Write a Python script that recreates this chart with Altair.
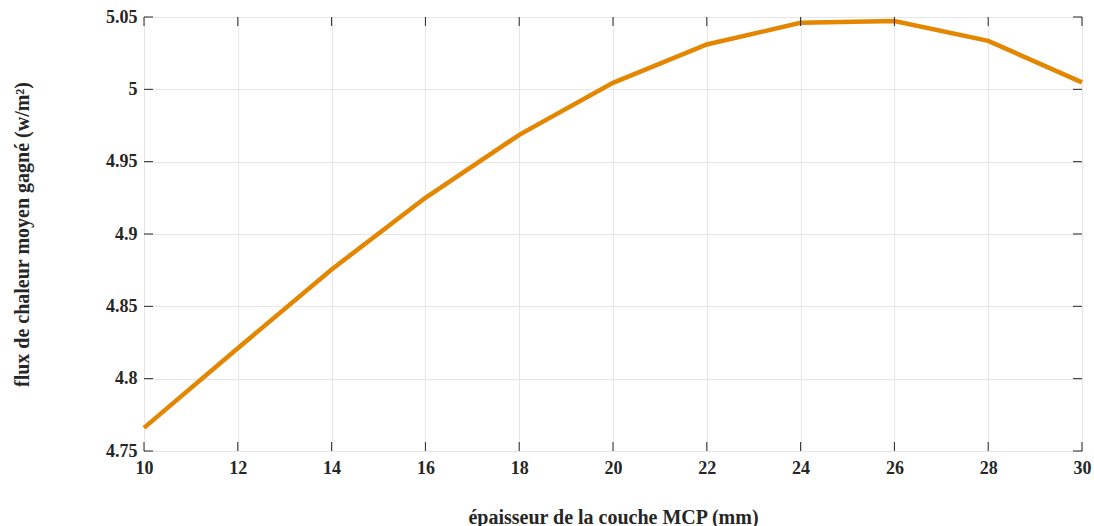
import altair as alt
import pandas as pd

# épaisseur de la couche MCP (mm) et flux moyen gagné (W/m²)
epaisseur = [10, 12, 14, 16, 18, 20, 22, 24, 26, 28, 30]
flux = [4.766, 4.821, 4.8755, 4.925, 4.9685, 5.0045, 5.031, 5.046, 5.0472, 5.0335, 5.0048]

x_ticks = [10, 12, 14, 16, 18, 20, 22, 24, 26, 28, 30]
y_ticks = [4.75, 4.8, 4.85, 4.9, 4.95, 5.0, 5.05]

W, H = 938, 434
FONT = "Liberation Serif"
INK = "#262626"
TICK_LEN = 9

df = pd.DataFrame({"e": epaisseur, "q": flux})
xs = alt.Scale(domain=[10, 30], nice=False)
ys = alt.Scale(domain=[4.75, 5.05], nice=False, zero=False)

x_axis = alt.Axis(values=x_ticks, format="d", grid=True, gridColor="#e6e6e6",
                  ticks=False, domain=False, labelPadding=8, labelFlush=False,
                  title="épaisseur de la couche MCP (mm)", titleY=66,
                  titleBaseline="middle")
y_axis = alt.Axis(values=y_ticks, format=".3~f", grid=True, gridColor="#e6e6e6",
                  ticks=False, domain=False, labelPadding=7, labelFlush=False,
                  title="flux de chaleur moyen gagné (w/m²)", titleX=-122,
                  titleBaseline="middle")

line = alt.Chart(df).mark_line(color="#E38600", strokeWidth=4.5).encode(
    x=alt.X("e:Q", scale=xs, axis=x_axis),
    y=alt.Y("q:Q", scale=ys, axis=y_axis),
)

xt = pd.DataFrame({"e": x_ticks})
yt = pd.DataFrame({"q": y_ticks})

# inward tick marks on all four sides of the box
bottom = alt.Chart(xt).mark_rule(color=INK, strokeWidth=1).encode(
    x=alt.X("e:Q", scale=xs, axis=x_axis), y=alt.value(H), y2=alt.value(H - TICK_LEN))
top = alt.Chart(xt).mark_rule(color=INK, strokeWidth=1).encode(
    x=alt.X("e:Q", scale=xs, axis=x_axis), y=alt.value(0), y2=alt.value(TICK_LEN))
left = alt.Chart(yt).mark_rule(color=INK, strokeWidth=1).encode(
    y=alt.Y("q:Q", scale=ys, axis=y_axis), x=alt.value(0), x2=alt.value(TICK_LEN))
right = alt.Chart(yt).mark_rule(color=INK, strokeWidth=1).encode(
    y=alt.Y("q:Q", scale=ys, axis=y_axis), x=alt.value(W), x2=alt.value(W - TICK_LEN))

chart = alt.layer(line, bottom, top, left, right).properties(
    width=W, height=H,
    background="white",
    autosize=alt.AutoSizeParams(type="none"),
    padding={"left": 144, "top": 17, "right": 12, "bottom": 75},
).configure_view(
    stroke=INK, strokeWidth=1
).configure_axis(
    labelFont=FONT, titleFont=FONT, labelFontSize=18, titleFontSize=20,
    labelFontWeight="bold", titleFontWeight="bold",
    labelColor=INK, titleColor=INK,
)

chart.save("out.html", embed_options={"renderer": "svg", "actions": False})
